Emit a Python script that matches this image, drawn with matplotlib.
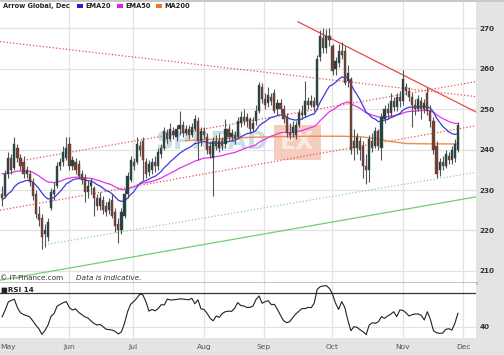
import matplotlib.pyplot as plt
from matplotlib.patches import Rectangle

# daily candles, first trading day of May to end of November
opens = [229, 228.5, 234, 238, 235.5, 240.5, 238, 237, 234, 234,
         232, 229, 224, 223, 219, 218.5, 225.5, 229, 231, 236,
         237, 238, 241.5, 236, 237, 236.5, 234, 233, 229.5, 231,
         230.5, 228, 226, 227.5, 226, 225, 227.5, 224.5, 221.5, 220,
         223.5, 229, 232.5, 237, 237, 241, 242, 237, 234.5, 235,
         237, 236, 239, 240.5, 244, 242.5, 244.5, 243, 245, 246,
         244, 245, 243.5, 245, 247, 242, 244.5, 243, 241, 238,
         242, 240.5, 242, 241.5, 245, 243, 243.5, 243, 246.5, 248,
         247, 247.5, 245, 247, 249.5, 255.5, 252.5, 251.5, 253, 254,
         250, 251.5, 250, 248, 244, 244, 243.5, 246, 249, 248.5,
         252, 251, 252, 251, 263, 267.5, 265, 268, 265.5, 260,
         261.5, 264.5, 264.5, 257, 257.5, 242, 240.5, 242, 241, 236,
         235, 242, 241, 244.5, 240.5, 247.5, 250, 249, 252, 250.5,
         253, 252, 255.5, 254.5, 253, 251, 250, 252, 250, 254,
         249.5, 247, 241, 235, 237, 236, 238.5, 237.5, 238, 240]
highs = [231, 235, 239.5, 239, 243, 241.5, 239, 238.5, 236, 235,
         233, 230, 226, 224, 221.5, 223, 230.5, 232, 237, 238,
         241, 243, 243, 238.5, 238, 237.5, 235, 234, 232.5, 233,
         231, 229, 229.5, 228.5, 227, 228, 229, 225.5, 223, 225.5,
         230, 234.5, 238.5, 238, 243, 242, 243, 238, 237.5, 238,
         238.5, 240.5, 241.5, 245.5, 245, 246.5, 245.5, 246, 249.5, 247,
         246, 246, 246.5, 248.5, 248, 245.5, 245.5, 244, 242, 243,
         243.5, 244, 243, 247.5, 246, 245, 244.5, 248, 249.5, 250,
         249, 248, 248, 251, 256.7, 256.5, 254, 255.5, 254, 255,
         252.5, 252.5, 251, 249, 246.5, 247, 247, 250, 251, 257,
         253, 253.5, 253, 263.5, 269.5, 270, 269.8, 270, 266, 263,
         266, 266.5, 265.5, 261, 258, 245, 244, 243, 242, 239,
         243.5, 244, 245.5, 245, 249, 251, 251.5, 254, 253, 254,
         254.5, 259.7, 256.5, 255.5, 254, 252.5, 253.5, 253, 252.5, 255.5,
         251, 248, 242, 238, 238.5, 240, 239.5, 241, 242.5, 246.8]
lows = [226, 228, 233, 234, 235, 237, 235, 233, 233, 231,
        227.5, 223, 221, 215.5, 216, 217.5, 225, 227.5, 230.5, 235,
        236, 237.5, 235, 235, 234, 233, 231.5, 227, 228, 229,
        223.5, 225, 225, 224, 223.5, 224, 223, 219.5, 217, 219,
        223, 228, 232, 235, 236.5, 238.5, 232.5, 233, 233.5, 234,
        234.5, 235, 238, 240, 241.5, 242, 242.5, 242, 243.5, 243,
        243.5, 242.5, 243, 244.5, 237.5, 241, 242.5, 239, 238, 228.5,
        240, 239.5, 240, 240.5, 242, 242, 241.5, 242.5, 245.5, 246,
        245.5, 244, 244.5, 246, 249, 251.5, 250, 250.5, 251, 249,
        248.5, 249, 246.5, 243, 242.5, 243, 242.5, 245.5, 247.5, 248,
        250, 250.5, 249.5, 250, 262, 264, 264, 265.5, 258.5, 258.5,
        260.5, 262.5, 256, 255.5, 239, 237.5, 239, 237.4, 233, 231.5,
        232, 239.5, 240.5, 240, 237.5, 246.5, 247.5, 248, 249.5, 249.5,
        250.5, 251, 253.5, 252, 245.5, 248.5, 249.5, 247.5, 249, 248.5,
        245.5, 239, 233, 233.5, 235, 235.5, 236.5, 236.5, 237, 239.5]
closes = [228, 234, 238, 235, 241.5, 238, 236, 234, 235, 232,
          228.5, 224, 222.5, 218.5, 220, 222, 229.5, 230, 236, 237,
          239.5, 240.5, 236, 237.5, 235, 233.5, 232.5, 229.5, 231, 232,
          228, 226, 228, 225, 224.5, 227, 223.5, 221, 220, 224.5,
          229, 233.5, 237.5, 236, 241.5, 240, 237.5, 234, 236.5, 237,
          236, 239.5, 240.5, 244.5, 242.5, 245, 243.5, 245, 246, 244,
          245, 243.5, 245.5, 247.5, 242, 244.5, 243.5, 240, 239, 242,
          241, 242, 241, 245, 243, 244, 242.5, 247, 248, 247,
          248, 245, 246.5, 249.5, 256, 252.5, 251, 253.5, 252, 249.5,
          251.5, 250, 247.5, 244, 243.5, 245.5, 246, 249, 248.5, 252,
          251, 252, 250.5, 262.5, 268, 265, 268, 267, 259.5, 262,
          264.5, 263.5, 256.5, 259, 240, 240.5, 243, 240, 236, 235,
          242.5, 240.5, 244.5, 241, 248, 250, 249, 252, 250.5, 253,
          252, 257.5, 254.5, 253, 251, 250, 252.5, 250, 251.5, 249.5,
          247, 240, 234, 237, 236, 239, 237.5, 240, 241.5, 246]

# moving averages as read where they enter the chart
ema20_start = 227.5
ema50_start = 234.3
ma200_days = [60, 70, 80, 90, 100, 110, 117, 122, 127, 132, 140, 149]
ma200_vals = [242.2, 242.6, 243.0, 243.2, 243.3, 243.3, 243.2, 242.7, 242.0, 241.5, 241.4, 241.4]

rsi14 = [49, 55, 62, 63.5, 64.5, 57, 52.5, 51, 50, 49,
         45.5, 41.7, 38.5, 33.5, 37, 41.7, 49.5, 52, 58.5, 60,
         61.5, 62.4, 57, 55, 56, 53, 51, 49, 48, 45.5,
         43.2, 41.7, 42.3, 40.3, 38, 37.7, 37.3, 36, 33.8, 35.8,
         43.2, 53.5, 60, 62.4, 65.3, 69, 68.3, 62.4, 54, 55.5,
         54.3, 56.2, 59.7, 59.4, 64.7, 63.8, 64, 64.3, 64.7, 64.7,
         64.3, 64, 65.3, 60.5, 64, 56, 55.5, 52, 47.6, 45.5,
         49.7, 48.5, 52, 53.5, 54, 53.8, 56.5, 61.5, 59, 58.5,
         57.3, 57.3, 58.5, 64.3, 67.4, 60.9, 62.4, 63.2, 59.7, 60,
         55.5, 50.3, 45.6, 43.8, 44.7, 48.2, 51.5, 53.8, 56.2, 56.2,
         57.3, 57, 60.9, 73.2, 75.6, 76.2, 76.5, 74, 69, 60.9,
         55.5, 62.4, 57.3, 46.2, 36.7, 40.3, 39.7, 37.6, 35.8, 33.4,
         41.7, 43.8, 43.2, 44.7, 49.1, 47.6, 49.7, 51.2, 53.5, 49.1,
         55, 54.7, 52.6, 49.7, 50.9, 51.5, 51.5, 50.3, 46.2, 53.5,
         46.7, 36.7, 34.9, 34.4, 34.6, 37.9, 38.5, 37.3, 43.2, 52.1]

months = ['May', 'Jun', 'Jul', 'Aug', 'Sep', 'Oct', 'Nov', 'Dec']
month_pos = [1.8, 21.9, 42.8, 66.0, 85.6, 107.8, 131.0, 150.7]

# drawn trend lines: ((day, price), (day, price)), colour, style
trend_lines = [
    ((96.7, 271.6), (154.9, 249.3), '#e84848', '-'),
    ((-0.7, 266.7), (154.9, 253.1), '#e85050', ':'),
    ((5.9, 237.2), (154.9, 256.8), '#e85050', ':'),
    ((-0.7, 225.0), (154.9, 245.9), '#e85050', ':'),
    ((15.0, 216.6), (154.9, 234.4), '#88d888', ':'),
    ((-0.7, 207.7), (154.9, 228.3), '#70d070', '-'),
]


def ema(values, span, seed):
    a = 2.0 / (span + 1)
    out = []
    prev = seed
    for v in values:
        prev = prev + a * (v - prev)
        out.append(prev)
    return out


days = list(range(len(closes)))
ema20 = ema(closes, 20, ema20_start)
ema50 = ema(closes, 50, ema50_start)

fig = plt.figure(figsize=(5.04, 3.55), dpi=100)
fig.patch.set_facecolor('#e4e4e4')
ax = fig.add_axes([0, 0.2028, 0.9444, 0.7916])
ax2 = fig.add_axes([0, 0.0479, 0.9444, 0.1549], sharex=ax)

grid_c = '#e2e2e2'
for a in (ax, ax2):
    a.set_facecolor('white')
    for m in month_pos[1:]:
        a.axvline(m, color=grid_c, lw=0.9, zorder=0)
    for s in a.spines.values():
        s.set_visible(False)

# main price panel
ax.set_xlim(-0.7, 154.9)
ax.set_ylim(207.0, 276.5)
ax.set_yticks([210, 220, 230, 240, 250, 260, 270])
for p in [210, 220, 230, 240, 250, 260, 270]:
    ax.axhline(p, color=grid_c, lw=0.9, zorder=0)
ax.yaxis.tick_right()
ax.tick_params(axis='y', length=0, pad=2.5, labelsize=5.2, labelcolor='#333333')
for t in ax.get_yticklabels():
    t.set_fontweight('bold')
ax.tick_params(axis='x', length=0, labelbottom=False)
ax.spines['bottom'].set_visible(True)
ax.spines['bottom'].set_color('#bdbdbd')
ax.spines['bottom'].set_linewidth(2)

# watermark
ax.text(0.326, 0.50, 'SPREAD', transform=ax.transAxes, fontsize=18, fontweight='bold',
        color='#c9dfe6', va='center', ha='left', zorder=0)
ax.text(0.625, 0.50, 'EX', transform=ax.transAxes, fontsize=17, fontweight='bold',
        color='#fbe9e3', va='center', ha='center', zorder=0,
        bbox=dict(boxstyle='square,pad=0.25', fc='#f5cdbf', ec='none'))

for (x0, y0), (x1, y1), c, ls in trend_lines:
    ax.plot([x0, x1], [y0, y1], color=c, lw=0.9, ls=ls, zorder=2)

ax.plot(ma200_days, ma200_vals, color='#f08a4b', lw=1.0, zorder=3)
ax.plot(days, ema50, color='#e633e6', lw=0.9, zorder=3)
ax.plot(days, ema20, color='#3a3ae0', lw=0.9, zorder=3)

# candles
ax.vlines(days, lows, highs, color='#555555', lw=0.8, zorder=4)
bottoms = [min(o, c) for o, c in zip(opens, closes)]
heights = [max(abs(c - o), 0.3) for o, c in zip(opens, closes)]
colors = ['#1e4444' if c >= o else '#7a3e2c' for o, c in zip(opens, closes)]
ax.bar(days, heights, bottom=bottoms, width=0.7, color=colors,
       edgecolor='#4a4a4a', linewidth=0.3, zorder=5)

ax.text(0.0, 0.006, '\u00a9 IT-Finance.com', transform=ax.transAxes, fontsize=5.2,
        color='#333333', va='bottom', ha='left', zorder=6)
ax.text(0.16, 0.006, 'Data is Indicative.', transform=ax.transAxes, fontsize=5.2,
        style='italic', color='#333333', va='bottom', ha='left', zorder=6)

# legend row
fig.text(0.006, 0.983, 'Arrow Global, Dec', fontsize=4.8, fontweight='bold',
         color='#222222', va='center', ha='left')
for x_sq, lab, col in [(0.153, 'EMA20', '#2020d8'), (0.232, 'EMA50', '#e020e0'),
                       (0.310, 'MA200', '#f07030')]:
    fig.patches.append(Rectangle((x_sq, 0.978), 0.012, 0.011, transform=fig.transFigure,
                                 facecolor=col, edgecolor='none'))
    fig.text(x_sq + 0.016, 0.983, lab, fontsize=4.8, fontweight='bold',
             color='#222222', va='center', ha='left')

# RSI panel
ax2.set_ylim(30.3, 78.8)
ax2.axhline(40, color=grid_c, lw=0.9, zorder=0)
ax2.axhline(70, color='#333333', lw=0.9, zorder=1)
ax2.plot(days, rsi14, color='#222222', lw=0.8, zorder=3)
ax2.yaxis.tick_right()
ax2.set_yticks([40])
ax2.tick_params(axis='y', length=0, pad=2.5, labelsize=5.2, labelcolor='#333333')
for t in ax2.get_yticklabels():
    t.set_fontweight('bold')
ax2.set_xticks(month_pos)
ax2.set_xticklabels(months)
ax2.tick_params(axis='x', length=0, pad=4, labelsize=5.4, labelcolor='#555555')
ax2.text(0.003, 0.93, '\u25a0RSI 14', transform=ax2.transAxes, fontsize=5.2,
         fontweight='bold', color='#222222', va='top', ha='left')

# top border
fig.patches.append(Rectangle((0, 0.994), 1, 0.006, transform=fig.transFigure,
                             facecolor='#c8c8c8', edgecolor='none'))

fig.savefig('out.png', dpi=100, facecolor=fig.get_facecolor())
